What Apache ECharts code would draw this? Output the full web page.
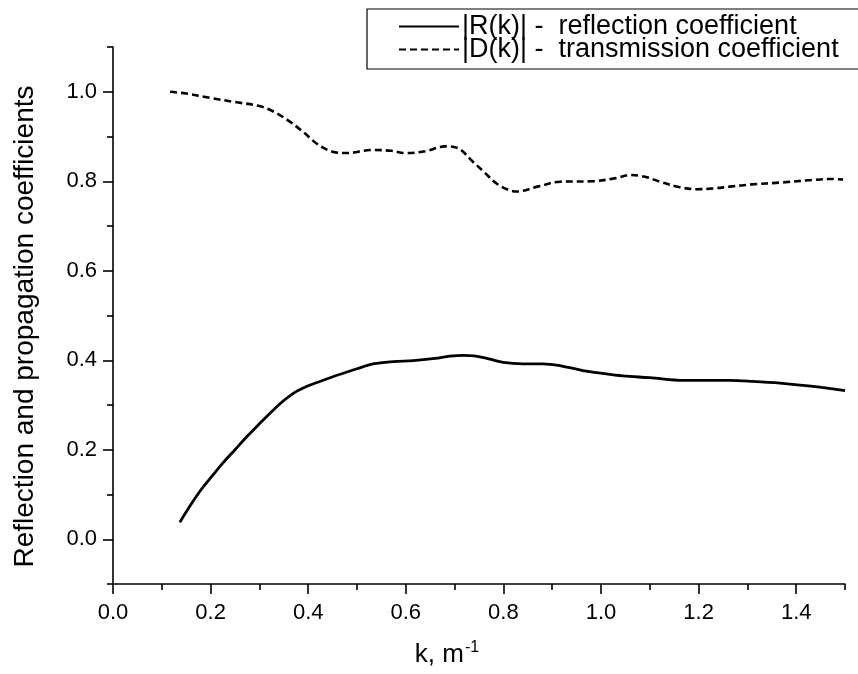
<!DOCTYPE html>
<html>
<head>
<meta charset="utf-8">
<title>Reflection and transmission coefficients</title>
<script src="https://cdn.jsdelivr.net/npm/echarts@6/dist/echarts.min.js"></script>
<style>
  html, body { margin: 0; padding: 0; background: #fff; }
  #chart { width: 858px; height: 674px; }
</style>
</head>
<body>
<div id="chart"></div>
<script>
// |R(k)| : reflection coefficient, sampled along k (m^-1)
const kR = [0.137, 0.16, 0.18, 0.2, 0.225, 0.25, 0.275, 0.3, 0.325, 0.35, 0.375, 0.4, 0.425, 0.445,
            0.475, 0.5, 0.533, 0.575, 0.615, 0.66, 0.69, 0.718, 0.74, 0.77, 0.8, 0.84, 0.881, 0.92,
            0.963, 1.0, 1.045, 1.1, 1.169, 1.22, 1.264, 1.31, 1.367, 1.43, 1.5];
const valR = [0.038, 0.078, 0.11, 0.137, 0.17, 0.2, 0.23, 0.258, 0.285, 0.31, 0.33, 0.343, 0.353, 0.361,
              0.372, 0.381, 0.392, 0.397, 0.399, 0.404, 0.409, 0.411, 0.41, 0.403, 0.395, 0.392, 0.392, 0.387,
              0.377, 0.371, 0.365, 0.361, 0.355, 0.355, 0.355, 0.353, 0.349, 0.342, 0.332];

// |D(k)| : transmission coefficient
const kD = [0.117, 0.15, 0.2, 0.25, 0.3, 0.33, 0.36, 0.39, 0.42, 0.45, 0.48, 0.53, 0.57, 0.6, 0.64,
            0.68, 0.705, 0.738, 0.76, 0.786, 0.81, 0.827, 0.87, 0.916, 0.984, 1.03, 1.059, 1.09, 1.121,
            1.16, 1.196, 1.23, 1.264, 1.31, 1.367, 1.435, 1.47, 1.496];
const valD = [1.0, 0.996, 0.986, 0.977, 0.968, 0.955, 0.935, 0.91, 0.882, 0.866, 0.863, 0.87, 0.868, 0.863, 0.867,
              0.878, 0.875, 0.843, 0.821, 0.795, 0.781, 0.777, 0.788, 0.799, 0.8, 0.807, 0.814, 0.81, 0.799,
              0.787, 0.782, 0.784, 0.788, 0.793, 0.797, 0.803, 0.805, 0.804];

const seriesNames = ['|R(k)| -  reflection coefficient', '|D(k)| -  transmission coefficient'];

// Axis ranges and tick positions
const xRange = [0, 1.5];
const yRange = [-0.1, 1.1];
const xMajor = [0, 0.2, 0.4, 0.6, 0.8, 1.0, 1.2, 1.4];
const xMinor = [0.1, 0.3, 0.5, 0.7, 0.9, 1.1, 1.3, 1.5];
const yMajor = [0, 0.2, 0.4, 0.6, 0.8, 1.0];
const yMinor = [-0.1, 0.1, 0.3, 0.5, 0.7, 0.9, 1.1];

const FONT = '"Liberation Sans", Arial, sans-serif';
const INK = '#000';
const TICK_FONT = 22;
const TITLE_FONT = 27;

function pairs(xs, ys) { return xs.map((x, i) => [x, ys[i]]); }

const majorAxis = (range, major, extra) => Object.assign({
  type: 'value',
  min: range[0],
  max: range[1],
  axisLine: { show: true, onZero: false, lineStyle: { color: INK, width: 1.6 } },
  axisTick: { show: true, inside: false, length: 10, customValues: major, lineStyle: { color: INK, width: 1.6 } },
  splitLine: { show: false }
}, extra);

const minorAxis = (range, minor, extra) => Object.assign({
  type: 'value',
  min: range[0],
  max: range[1],
  axisLine: { show: false, onZero: false },
  axisTick: { show: true, inside: false, length: 6, customValues: minor, lineStyle: { color: INK, width: 1.6 } },
  axisLabel: { show: false },
  splitLine: { show: false }
}, extra);

const chart = echarts.init(document.getElementById('chart'), null, { renderer: 'canvas' });

chart.setOption({
  backgroundColor: '#fff',
  animation: false,
  grid: { left: 113, right: 13, top: 47, bottom: 90, containLabel: false, outerBoundsMode: 'none' },
  legend: {
    orient: 'vertical',
    left: 367,
    top: 9,
    padding: [4, 120, 6, 31],
    itemGap: -4,
    itemWidth: 60,
    itemHeight: 14,
    borderColor: INK,
    borderWidth: 1.2,
    itemStyle: { color: 'rgba(0,0,0,0)', borderWidth: 0 },
    textStyle: { color: INK, fontFamily: FONT, fontSize: TITLE_FONT, lineHeight: 23, padding: [0, 0, 0, -2] },
    data: seriesNames
  },
  xAxis: [
    majorAxis(xRange, xMajor, {
      position: 'bottom',
      axisLabel: { show: true, customValues: xMajor, color: INK, fontFamily: FONT, fontSize: TICK_FONT, margin: 18,
                   formatter: v => v.toFixed(1) },
      name: '{t|k, m}{s|-1}',
      nameLocation: 'middle',
      nameGap: 56,
      nameTextStyle: {
        padding: [0, 64, 0, 0],
        rich: {
          t: { fontFamily: FONT, fontSize: 26, color: INK },
          s: { fontFamily: FONT, fontSize: 16, color: INK, verticalAlign: 'bottom', padding: [0, 0, 14, 1] }
        }
      }
    }),
    minorAxis(xRange, xMinor, { position: 'bottom' })
  ],
  yAxis: [
    majorAxis(yRange, yMajor, {
      position: 'left',
      axisLabel: { show: true, customValues: yMajor, color: INK, fontFamily: FONT, fontSize: TICK_FONT, margin: 16,
                   formatter: v => v.toFixed(1) },
      name: 'Reflection and propagation coefficients',
      nameLocation: 'middle',
      nameGap: 74,
      nameRotate: 90,
      nameTextStyle: { color: INK, fontFamily: FONT, fontSize: 28, padding: [0, 22, 0, 0] }
    }),
    minorAxis(yRange, yMinor, { position: 'left' })
  ],
  series: [
    {
      name: seriesNames[0],
      type: 'line',
      xAxisIndex: 0,
      yAxisIndex: 0,
      data: pairs(kR, valR),
      smooth: 0.35,
      symbol: 'none',
      lineStyle: { color: INK, width: 2.8, type: 'solid' },
      itemStyle: { color: INK }
    },
    {
      name: seriesNames[1],
      type: 'line',
      xAxisIndex: 0,
      yAxisIndex: 0,
      data: pairs(kD, valD),
      smooth: 0.35,
      symbol: 'none',
      lineStyle: { color: INK, width: 2.6, type: [7, 4] },
      itemStyle: { color: INK }
    }
  ]
});
</script>
</body>
</html>
